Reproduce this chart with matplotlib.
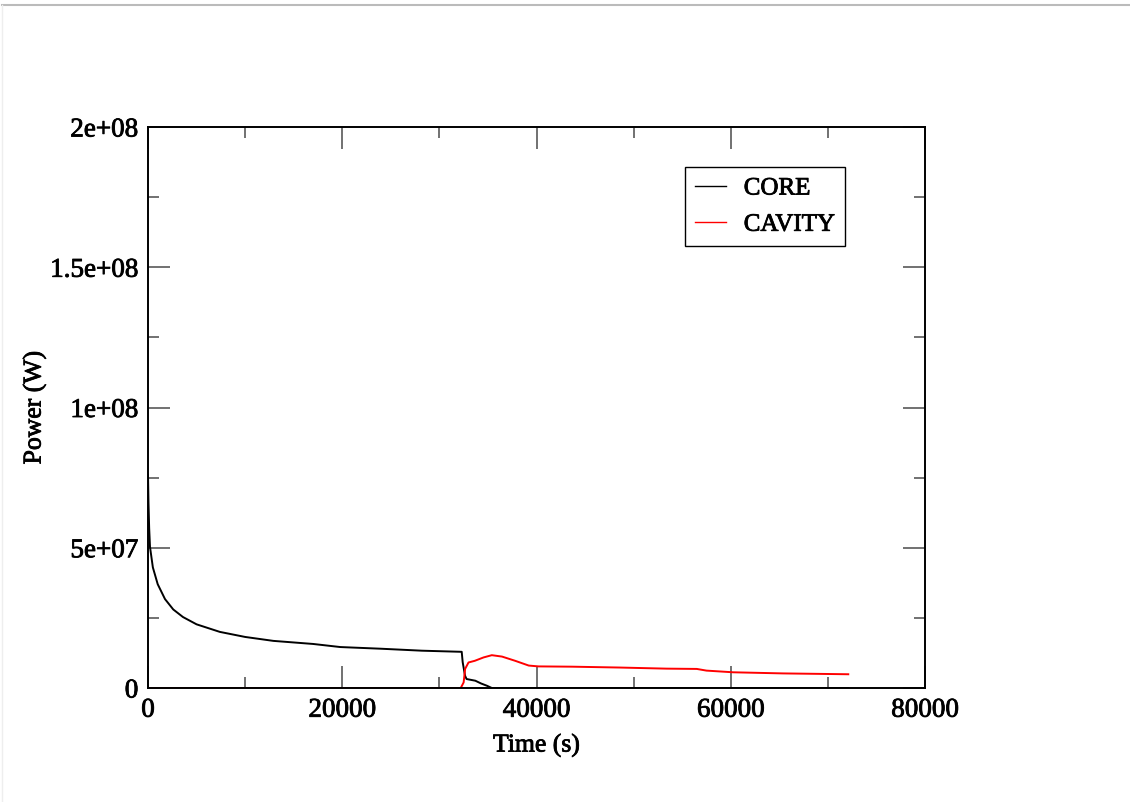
import numpy as np
import matplotlib
matplotlib.use("Agg")
import matplotlib.pyplot as plt
import matplotlib.patheffects as pe
from matplotlib.lines import Line2D
from matplotlib.ticker import MultipleLocator

# data
core_t = [0, 50, 120, 206, 500, 1000, 1750, 2600, 3600, 5000, 7400, 10000, 12900,
          17000, 19800, 24000, 28200, 32300, 32400, 32640, 32800, 33700, 34300,
          34900, 35400, 40000, 50000, 60000, 72100]
core_p = [7.6e7, 6.6e7, 5.7e7, 5.03e7, 4.3e7, 3.7e7, 3.17e7, 2.8e7, 2.53e7, 2.27e7,
          2.0e7, 1.82e7, 1.68e7, 1.57e7, 1.46e7, 1.4e7, 1.33e7, 1.29e7, 9.2e6,
          4.4e6, 3.2e6, 2.6e6, 1.6e6, 0.8e6, 0, 0, 0, 0, 0]

cav_t = [0, 20000, 32200, 32500, 32650, 33000, 33650, 34550, 35400, 36450, 37800,
         39200, 40200, 43650, 48500, 53400, 56500, 57500, 60250, 65400, 69900, 72100]
cav_p = [0, 0, 0, 2.0e6, 6.8e6, 9.1e6, 9.7e6, 1.09e7, 1.17e7, 1.12e7, 9.7e6,
         8.0e6, 7.7e6, 7.6e6, 7.3e6, 6.9e6, 6.8e6, 6.2e6, 5.6e6, 5.2e6, 5.0e6, 4.9e6]

yticks = [0, 5e7, 1e8, 1.5e8, 2e8]
ytick_labels = ['0', '5e+07', '1e+08', '1.5e+08', '2e+08']

plt.rcParams['font.family'] = ['Liberation Serif', 'DejaVu Serif']
plt.rcParams['font.size'] = 18.5

# slightly heavier text, like the reference rendering
heavy = [pe.withStroke(linewidth=0.6, foreground='black')]

fig = plt.figure(figsize=(11.3, 8.03), dpi=100)
ax = fig.add_axes([148/1130, 1-689/803, 777/1130, 561/803])

ax.plot(core_t, core_p, color='black', lw=1.4, label='CORE')
ax.plot(cav_t, cav_p, color='red', lw=1.4, label='CAVITY')

ax.set_xlim(0, 80000)
ax.set_ylim(0, 2e8)
ax.set_xticks([0, 20000, 40000, 60000, 80000])
ax.set_yticks(yticks)
ax.set_yticklabels(ytick_labels)
ax.xaxis.set_minor_locator(MultipleLocator(10000))
ax.yaxis.set_minor_locator(MultipleLocator(2.5e7))
ax.tick_params(which='both', direction='in', top=True, right=True, color='#666666',
               labelsize=19.5)
ax.tick_params(which='major', length=16, width=1.3, pad=7)
ax.tick_params(which='minor', length=8, width=1.3)
for s in ax.spines.values():
    s.set_linewidth(1.4)

ax.set_xlabel('Time (s)', labelpad=8, path_effects=heavy)
ax.set_ylabel('Power (W)', labelpad=3, path_effects=heavy)
for t in ax.get_xticklabels() + ax.get_yticklabels():
    t.set_path_effects(heavy)

leg = ax.legend(loc='upper left', bbox_to_anchor=((685-148)/777, (689-168)/561),
                frameon=True, fancybox=False, edgecolor='black', framealpha=1,
                handlelength=1.25, handletextpad=0.7, borderpad=0.4,
                borderaxespad=0, labelspacing=0.55, fontsize=18)
leg.get_frame().set_linewidth(1.0)
for h in leg.get_lines():
    h.set_linewidth(1.0)
for t in leg.get_texts():
    t.set_path_effects(heavy)

# thin border of the frame around the picture
fig.add_artist(Line2D([2/1130, 1], [1-6/803, 1-6/803], color='#bbbbbb', lw=1.5))
fig.add_artist(Line2D([2/1130, 2/1130], [0, 1-6/803], color='#eeeeee', lw=1))

fig.savefig('out.png', dpi=100)
